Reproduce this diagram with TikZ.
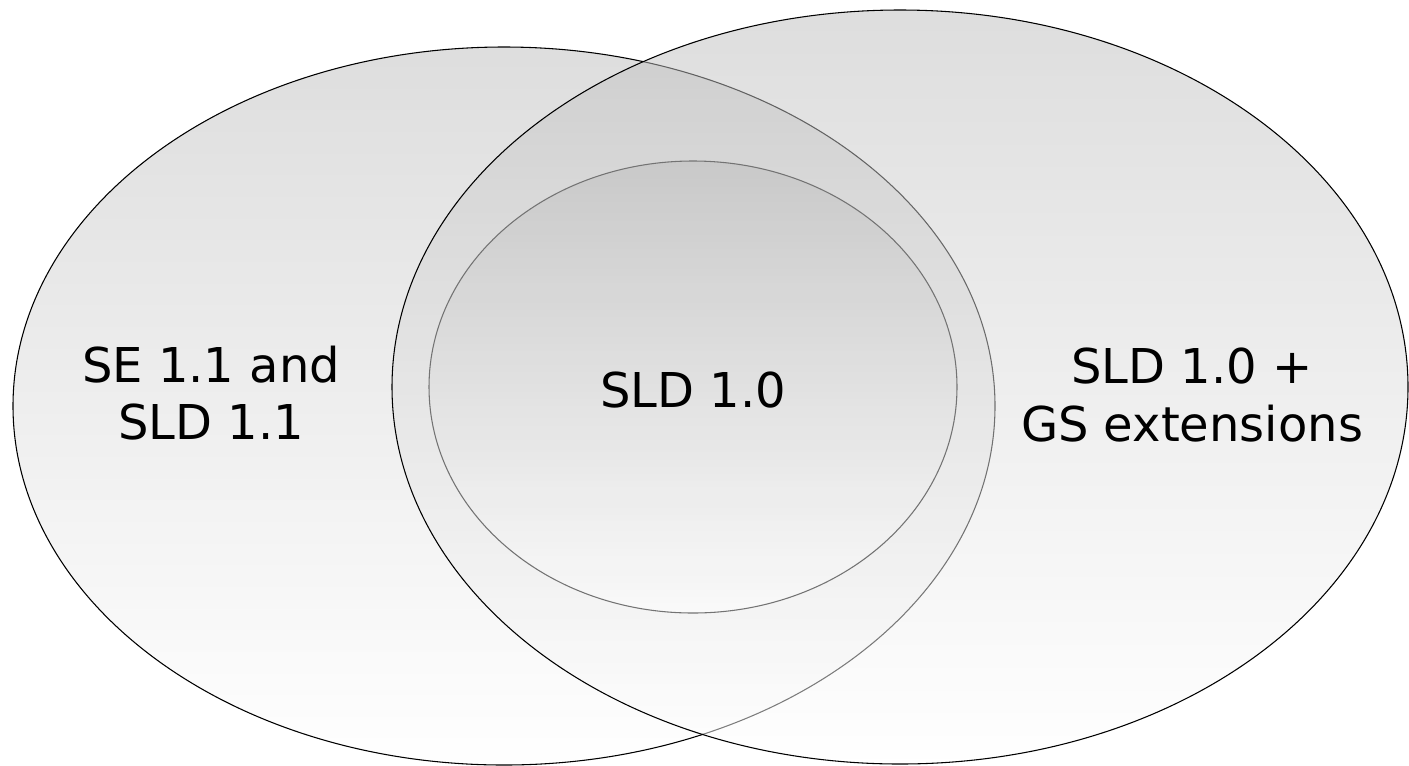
\documentclass[tikz,border=0pt]{standalone}
\usepackage{fontspec}
\setmainfont{DejaVu Sans}
\begin{document}
\begin{tikzpicture}[x=0.75pt,y=-0.75pt,
  setshape/.style={top color=black!26, bottom color=white, fill opacity=0.5, draw opacity=1, line width=0.8pt},
  outerline/.style={draw=black},
  innerline/.style={draw=black!55},
  label/.style={font=\fontsize{36pt}{43pt}\selectfont, align=center, inner sep=0pt, text opacity=1}]
\useasboundingbox (0,0) rectangle (1409,765);
\path[setshape, outerline] (504,406) ellipse [x radius=491, y radius=359];
\path[setshape, outerline] (900,387) ellipse [x radius=508, y radius=377];
\path[setshape, innerline] (693,387) ellipse [x radius=264, y radius=226];
\node[label] (left) at (211,393) {SE 1.1 and\\SLD 1.1};
\node[label] (mid) at (693,390) {SLD 1.0};
\node[label] (right) at (1192,395) {SLD 1.0 +\\GS extensions};
\end{tikzpicture}
\end{document}
